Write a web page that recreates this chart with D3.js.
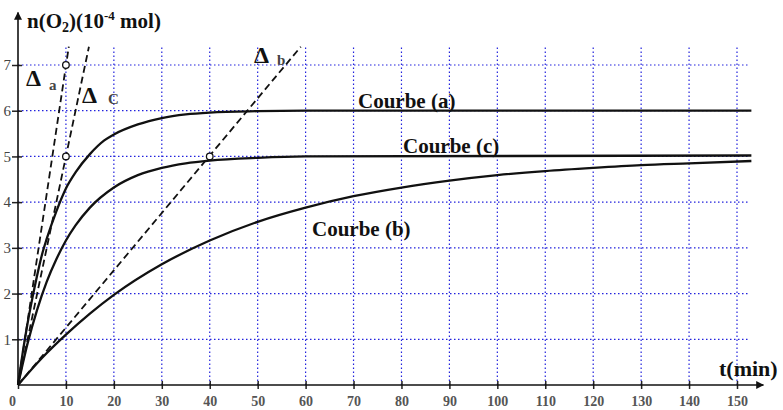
<!DOCTYPE html>
<html>
<head>
<meta charset="utf-8">
<script src="https://cdn.jsdelivr.net/npm/d3@7"></script>
<style>
  body { margin: 0; background: #fff; }
  text { font-family: "Liberation Serif", "DejaVu Serif", serif; }
</style>
</head>
<body>
<script>
// values (t in min, n in 10^-4 mol)
let xTicks = [10, 20, 30, 40, 50, 60, 70, 80, 90, 100, 110, 120, 130, 140, 150];
let yTicks = [1, 2, 3, 4, 5, 6, 7];

let tA = [0, 1, 2, 3, 4, 5, 6, 8, 10, 12, 15, 18, 20, 25, 30, 35, 40, 50, 60, 153];
let nA = [0, 0.72, 1.35, 1.9, 2.4, 2.85, 3.2, 3.8, 4.3, 4.65, 5.05, 5.35, 5.48, 5.7, 5.84, 5.92, 5.96, 5.99, 6, 6];

let tC = [0, 2, 4, 6, 8, 10, 12, 15, 20, 25, 30, 35, 40, 50, 60, 153];
let nC = [0, 0.91, 1.65, 2.26, 2.75, 3.16, 3.49, 3.88, 4.32, 4.59, 4.75, 4.85, 4.91, 4.97, 5, 5.02];

let tB = [0, 5, 10, 15, 20, 30, 40, 50, 60, 70, 80, 90, 100, 110, 120, 130, 140, 153];
let nB = [0, 0.59, 1.1, 1.56, 1.97, 2.64, 3.16, 3.57, 3.88, 4.13, 4.32, 4.47, 4.59, 4.68, 4.75, 4.81, 4.85, 4.9];

// tangents at origin
let tangents = [
  { name: "a", pts: [[0, 0], [10.6, 7.4]] },
  { name: "c", pts: [[0, 0], [14.8, 7.4]] },
  { name: "b", pts: [[0, 0], [59, 7.4]] }
];
let marks = [[10, 7], [10, 5], [40, 5]];

let width = 783, height = 410;
let svg = d3.select("body").append("svg")
  .attr("width", width).attr("height", height);

let x = d3.scaleLinear().domain([0, 150]).range([18, 737]);
let y = d3.scaleLinear().domain([0, 7]).range([385, 65]);

let gridColor = "#2222dd";

// grid
svg.append("g").selectAll("line").data(xTicks).enter().append("line")
  .attr("x1", d => x(d)).attr("x2", d => x(d))
  .attr("y1", y(0)).attr("y2", y(7.4))
  .attr("stroke", gridColor).attr("stroke-width", 1.2)
  .attr("stroke-dasharray", "1.5,2.5");
svg.append("g").selectAll("line").data(yTicks).enter().append("line")
  .attr("x1", x(0)).attr("x2", x(152.5))
  .attr("y1", d => y(d)).attr("y2", d => y(d))
  .attr("stroke", gridColor).attr("stroke-width", 1.2)
  .attr("stroke-dasharray", "1.5,2.5");

// axes
let xAxis = svg.append("g").attr("transform", `translate(0,${y(0)})`)
  .call(d3.axisBottom(x).tickValues([0].concat(xTicks)).tickFormat(d3.format("d")).tickSize(5).tickSizeOuter(0));
let yAxis = svg.append("g").attr("transform", `translate(${x(0)},0)`)
  .call(d3.axisLeft(y).tickValues(yTicks).tickFormat(d3.format("d")).tickSize(6).tickSizeOuter(0));

xAxis.select(".domain").remove();
yAxis.select(".domain").remove();
xAxis.selectAll(".tick line").attr("y1", -4).attr("y2", 4).attr("stroke", "#222").attr("stroke-width", 1.5);
yAxis.selectAll(".tick line").attr("x1", -6).attr("x2", 4).attr("stroke", "#222").attr("stroke-width", 1.5);
xAxis.selectAll(".tick text").attr("y", 11)
  .style("font-family", "Liberation Serif, serif").style("font-size", "14px")
  .style("font-weight", "bold").attr("fill", "#555");
xAxis.selectAll(".tick").filter(d => d == 0).select("text").attr("dx", -6);
yAxis.selectAll(".tick text").attr("x", -7)
  .style("font-family", "Liberation Serif, serif").style("font-size", "15px")
  .attr("fill", "#444");

// axis lines with arrows
svg.append("defs").append("marker")
  .attr("id", "arrow").attr("viewBox", "0 0 10 10")
  .attr("refX", 9).attr("refY", 5)
  .attr("markerWidth", 10).attr("markerHeight", 8)
  .attr("markerUnits", "userSpaceOnUse")
  .attr("orient", "auto")
  .append("path").attr("d", "M0,0 L10,5 L0,10 z").attr("fill", "#111");

svg.append("line")
  .attr("x1", x(0)).attr("y1", y(0)).attr("x2", x(155.5)).attr("y2", y(0))
  .attr("stroke", "#111").attr("stroke-width", 1.6).attr("marker-end", "url(#arrow)");
svg.append("line")
  .attr("x1", x(0)).attr("y1", y(0)).attr("x2", x(0)).attr("y2", y(8.15))
  .attr("stroke", "#111").attr("stroke-width", 1.6).attr("marker-end", "url(#arrow)");

// tangent lines
let line = d3.line().x(d => x(d[0])).y(d => y(d[1]));
svg.append("g").selectAll("path").data(tangents).enter().append("path")
  .attr("d", d => line(d.pts))
  .attr("fill", "none").attr("stroke", "#111").attr("stroke-width", 1.8)
  .attr("stroke-dasharray", "7,4");

// curves
let curve = d3.line().x(d => x(d[0])).y(d => y(d[1])).curve(d3.curveMonotoneX);
for (let [ts, ns] of [[tA, nA], [tC, nC], [tB, nB]]) {
  svg.append("path")
    .attr("d", curve(ts.map((t, i) => [t, ns[i]])))
    .attr("fill", "none").attr("stroke", "#111").attr("stroke-width", 2.3);
}

// marked points
svg.append("g").selectAll("circle").data(marks).enter().append("circle")
  .attr("cx", d => x(d[0])).attr("cy", d => y(d[1])).attr("r", 3.3)
  .attr("fill", "#fff").attr("stroke", "#111").attr("stroke-width", 1.3);

// labels
let ylab = svg.append("text").attr("x", 27).attr("y", 28)
  .style("font-size", "21px").style("font-weight", "bold").attr("fill", "#111");
ylab.append("tspan").text("n(O");
ylab.append("tspan").text("2").style("font-size", "14px").attr("dy", 4);
ylab.append("tspan").text(")(10").attr("dy", -4);
ylab.append("tspan").text("-4").style("font-size", "13px").attr("dy", -8);
ylab.append("tspan").text(" mol)").attr("dy", 8);

svg.append("text").attr("x", 719).attr("y", 376).text("t(min)")
  .style("font-size", "22px").style("font-weight", "bold").attr("fill", "#111");

let curveLabels = [
  { text: "Courbe (a)", x: 358, y: 108 },
  { text: "Courbe (c)", x: 403, y: 153 },
  { text: "Courbe (b)", x: 312, y: 236 }
];
svg.append("g").selectAll("text").data(curveLabels).enter().append("text")
  .attr("x", d => d.x).attr("y", d => d.y).text(d => d.text)
  .style("font-size", "21px").style("font-weight", "bold").attr("fill", "#111");

let deltaLabels = [
  { sub: "a", x: 26, y: 86, sx: 49, sy: 90 },
  { sub: "C", x: 82, y: 103, sx: 108, sy: 104 },
  { sub: "b", x: 254, y: 63, sx: 277, sy: 65 }
];
for (let d of deltaLabels) {
  svg.append("text").attr("x", d.x).attr("y", d.y).text("Δ")
    .style("font-size", "24px").style("font-weight", "bold").attr("fill", "#111");
  svg.append("text").attr("x", d.sx).attr("y", d.sy).text(d.sub)
    .style("font-size", "15px").style("font-weight", "bold").attr("fill", "#444");
}
</script>
</body>
</html>
